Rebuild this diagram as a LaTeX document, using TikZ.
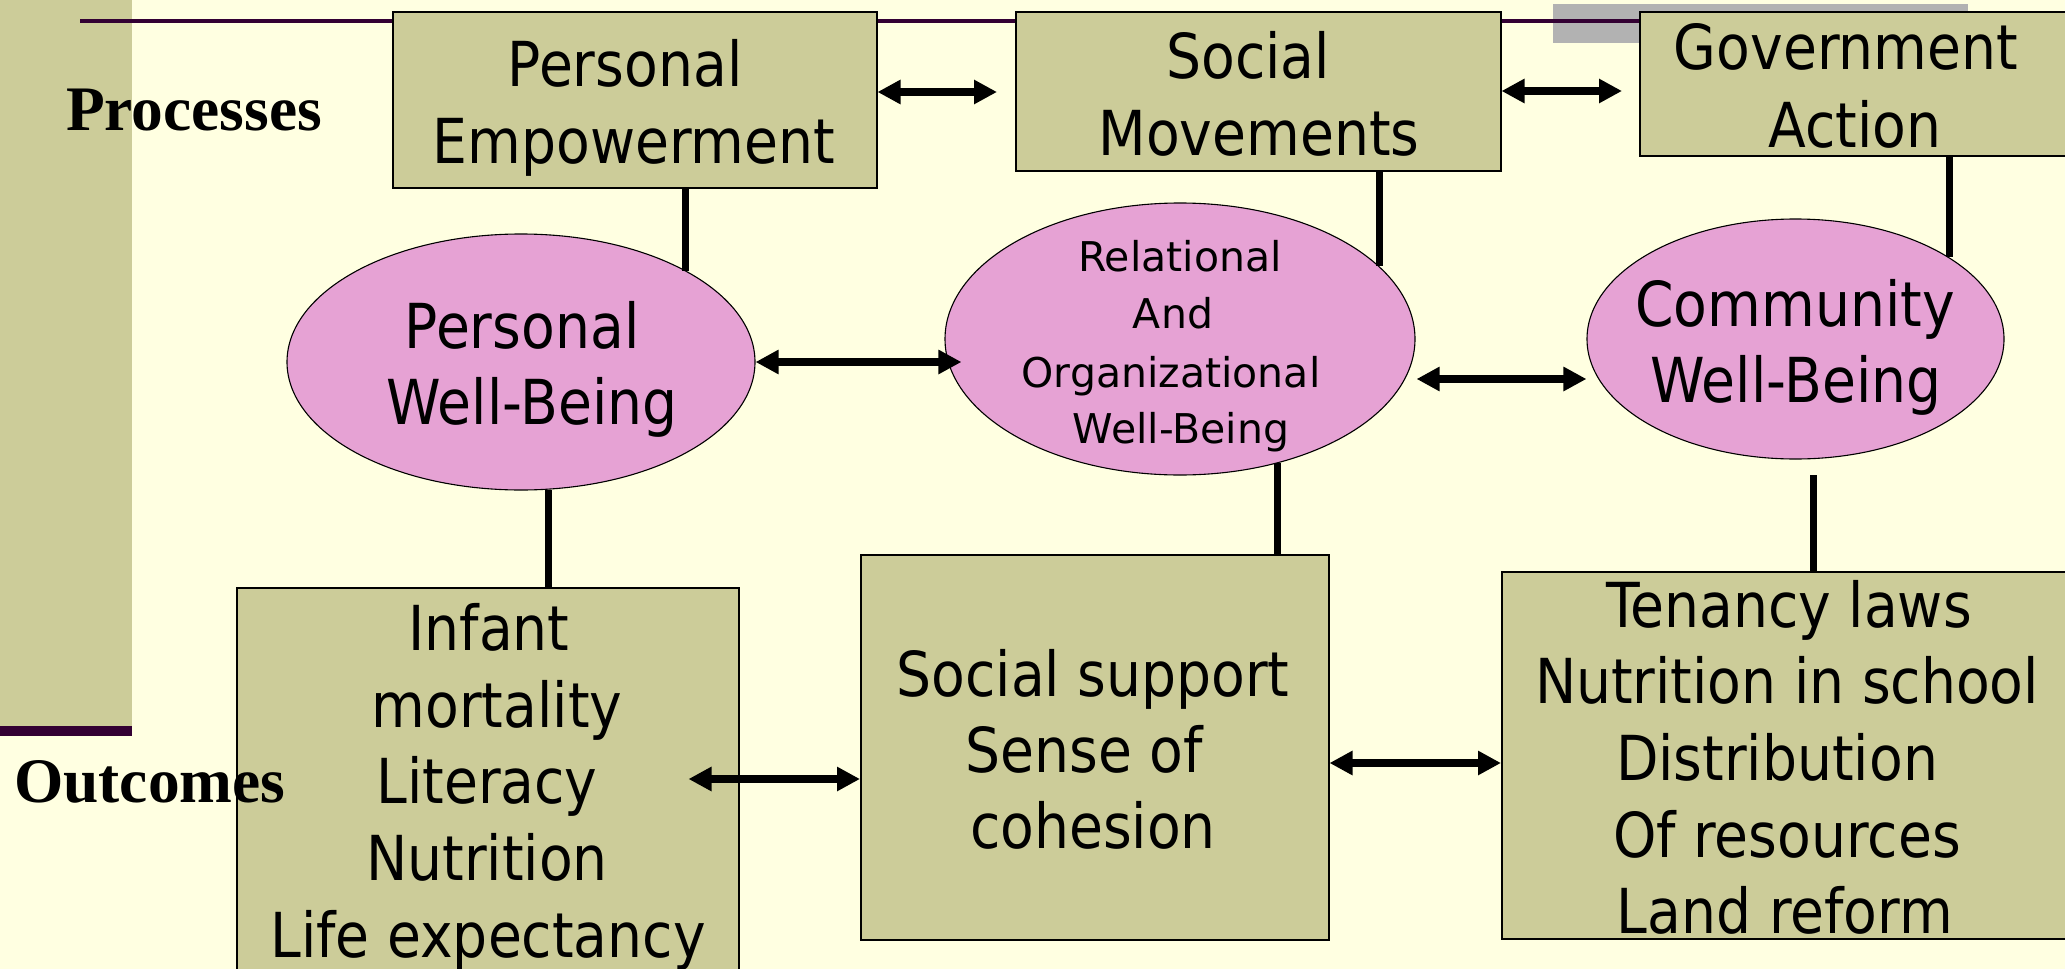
\documentclass[tikz,border=0pt]{standalone}
\usepackage{fontspec}
\newfontfamily\tah[FakeStretch=0.89]{DejaVu Sans}
\newfontfamily\tahs{DejaVu Sans}
\newfontfamily\tnr{Liberation Serif}
\usetikzlibrary{arrows.meta,calc,shapes.geometric}
\definecolor{bgc}{RGB}{255,255,225}
\definecolor{boxc}{RGB}{204,204,153}
\definecolor{pinkc}{RGB}{230,162,212}
\definecolor{grayc}{RGB}{178,178,178}
\definecolor{purp}{RGB}{51,0,51}
\begin{document}
\begin{tikzpicture}[x=1pt,y=-1pt,
 box/.style={draw=black,line width=1.5pt,fill=boxc,rectangle,inner sep=0pt,anchor=north west},
 oval/.style={draw=black,line width=1.1pt,fill=pinkc,ellipse,inner sep=0pt},
 big/.style={inner sep=0pt,anchor=base,font=\tah\fontsize{62}{76}\selectfont},
 small/.style={inner sep=0pt,anchor=base,font=\tahs\fontsize{41}{58}\selectfont},
 lab/.style={inner sep=0pt,anchor=base west,font=\tnr\bfseries\fontsize{63.4}{76}\selectfont},
 conn/.style={line width=7pt},
 dbl/.style={line width=7.5pt,{Triangle[length=23pt,width=23pt]}-{Triangle[length=23pt,width=23pt]}}]
\useasboundingbox (0,0) rectangle (2065,969);
\fill[bgc] (0,0) rectangle (2065,969);
\fill[boxc] (0,0) rectangle (132,726);
\fill[purp] (0,726) rectangle (132,736);
\fill[grayc] (1553,4) rectangle (1968,43);
\draw[purp,line width=3.7pt] (80,21) -- (1968,21);

% process boxes
\node[box,minimum width=484pt,minimum height=176pt] (pe) at (392,11) {};
\node[box,minimum width=485pt,minimum height=159pt] (sm) at (1015,11) {};
\node[box,minimum width=431pt,minimum height=144pt] (gov) at (1639,11) {};
% outcome boxes
\node[box,minimum width=502pt,minimum height=400pt] (inf) at (236,587) {};
\node[box,minimum width=468pt,minimum height=385pt] (ss) at (860,554) {};
\node[box,minimum width=570pt,minimum height=367pt] (ten) at (1501,571) {};
% ellipses
\node[oval,minimum width=468pt,minimum height=256pt] (pwb) at (521,362) {};
\node[oval,minimum width=470pt,minimum height=272pt] (rel) at (1180,339) {};
\node[oval,minimum width=417pt,minimum height=240pt] (comm) at (1795.5,339) {};

% vertical connectors
\draw[conn] (pwb.29 |- pe.south) -- (pwb.29);
\draw[conn] (rel.20 |- sm.south) -- (rel.20);
\draw[conn] (comm.28 |- gov.south) -- (comm.28);
\draw[conn] (pwb.282) -- (pwb.282 |- inf.north);
\draw[conn] (rel.308) -- (rel.308 |- ss.north);
\coordinate (cb) at (1813,475);
\draw[conn] (cb) -- (cb |- ten.north);

% horizontal double arrows
\draw[dbl] (pe.east |- 0,92) -- ($(sm.west |- 0,92)+(-18,0)$);
\draw[dbl] (sm.east |- 0,91) -- ($(gov.west |- 0,91)+(-17,0)$);
\draw[dbl] (pwb.east) -- ($(rel.west |- pwb.east)+(17,0)$);
\draw[dbl] ($(rel.east)+(1,40)$) -- ($(comm.west)+(0,40)$);
\draw[dbl] ($(inf.east |- 0,779)+(-51,0)$) -- (ss.west |- 0,779);
\draw[dbl] (ss.east |- 0,763) -- (ten.west |- 0,763);

% texts
\node[big] (peA) at (625,86) {Personal};
\node[big] (peB) at (634,163) {Empowerment};
\node[big] (smA) at (1248,78) {Social};
\node[big] (smB) at (1259,155) {Movements};
\node[big] (govA) at (1846,69) {Government};
\node[big] (govB) at (1855,147) {Action};
\node[big] (pwbA) at (522,348) {Personal};
\node[big] (pwbB) at (532,424) {Well-Being};
\node[small] (relA) at (1180,271) {Relational};
\node[small] (relB) at (1173,328) {And};
\node[small] (relC) at (1171,387) {Organizational};
\node[small] (relD) at (1181,443) {Well-Being};
\node[big] (comA) at (1795,326) {Community};
\node[big] (comB) at (1796,402) {Well-Being};
\node[big] (infA) at (489,650) {Infant};
\node[big] (infB) at (497,727) {mortality};
\node[big] (infC) at (487,803) {Literacy};
\node[big] (infD) at (487,880) {Nutrition};
\node[big] (infE) at (488,957) {Life expectancy};
\node[big] (ssA) at (1093,696) {Social support};
\node[big] (ssB) at (1084,772) {Sense of};
\node[big] (ssC) at (1093,848) {cohesion};
\node[big] (tenA) at (1789,627) {Tenancy laws};
\node[big] (tenB) at (1787,703) {Nutrition in school};
\node[big] (tenC) at (1777,780) {Distribution};
\node[big] (tenD) at (1787,857) {Of resources};
\node[big] (tenE) at (1785,933) {Land reform};
\node[lab] (proc) at (66,130) {Processes};
\node[lab] (outc) at (14,802) {Outcomes};
\end{tikzpicture}
\end{document}
